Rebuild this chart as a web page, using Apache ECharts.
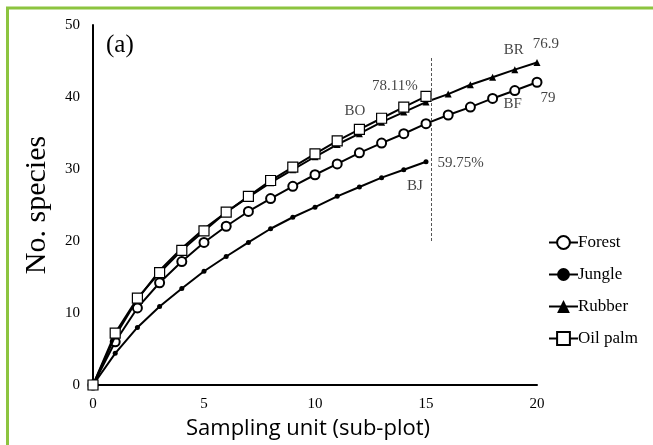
<!DOCTYPE html>
<html>
<head>
<meta charset="utf-8">
<script src="https://cdn.jsdelivr.net/npm/echarts@6/dist/echarts.min.js"></script>
<style>
html,body{margin:0;padding:0;background:#fff;}
#c{width:653px;height:445px;}
</style>
</head>
<body>
<div id="c"></div>
<script>
// Sampling units (x values)
var units = [0,1,2,3,4,5,6,7,8,9,10,11,12,13,14,15,16,17,18,19,20];
// Species accumulation per habitat
var forest  = [0,6.0,10.7,14.2,17.15,19.8,22.05,24.1,25.9,27.6,29.2,30.7,32.25,33.6,34.9,36.3,37.5,38.6,39.8,40.9,42.05];
var jungle  = [0,4.4,8.0,10.9,13.4,15.8,17.85,19.8,21.7,23.3,24.7,26.2,27.5,28.8,29.9,31.0];
var rubber  = [0,6.8,11.9,15.9,19.0,21.7,24.0,26.1,28.1,29.9,31.7,33.4,34.9,36.5,37.9,39.3,40.4,41.7,42.75,43.8,44.8];
var oilpalm = [0,7.2,12.06,15.6,18.7,21.4,24.0,26.2,28.4,30.25,32.1,33.9,35.5,37.05,38.6,40.1];
var seriesNames = ['Forest','Jungle','Rubber','Oil palm'];
var xTicks = [0,5,10,15,20];
var yTicks = [0,10,20,30,40,50];
// annotations: [x, y, text]
var annotations = [
  [11.8, 38.1, 'BO'],
  [13.6, 41.5, '78.11%'],
  [18.95, 46.5, 'BR'],
  [20.4, 47.4, '76.9'],
  [18.9, 38.96, 'BF'],
  [20.5, 39.8, '79'],
  [16.56, 30.76, '59.75%'],
  [14.5, 27.6, 'BJ']
];
var cutX = 15.25;
var cutRange = [20, 45.5];

function pairs(vals){ return vals.map(function(v,i){ return [units[i], v]; }); }

var serif = 'Liberation Serif';
var chart = echarts.init(document.getElementById('c'), null, {renderer:'canvas'});
var lineBase = {type:'line', smooth:false, lineStyle:{color:'#000', width:2}, emphasis:{disabled:true}, animation:false};

var option = {
  animation:false,
  backgroundColor:'#fff',
  grid:{left:93, top:25, width:444, height:360, containLabel:false},
  legend:{
    orient:'vertical', left:543, top:229, itemGap:15, itemWidth:29, itemHeight:16,
    data:seriesNames,
    textStyle:{fontFamily:serif, fontSize:17, color:'#000', padding:[0,0,0,-5]}
  },
  xAxis:{
    type:'value', min:0, max:20, interval:5,
    axisLine:{show:true, lineStyle:{color:'#000', width:2}},
    axisTick:{show:false}, splitLine:{show:false},
    axisLabel:{fontFamily:serif, fontSize:15, color:'#000', margin:12,
      formatter:function(v){ return xTicks.indexOf(v)>=0 ? String(v) : ''; }},
    name:'Sampling unit (sub-plot)', nameLocation:'middle', nameGap:33,
    nameTextStyle:{fontFamily:'Open Sans', fontSize:22, color:'#000', padding:[0,14,0,0]}
  },
  yAxis:{
    type:'value', min:0, max:50, interval:10,
    axisLine:{show:true, lineStyle:{color:'#000', width:2}},
    axisTick:{show:false}, splitLine:{show:false},
    axisLabel:{fontFamily:serif, fontSize:15, color:'#000', margin:13,
      formatter:function(v){ return yTicks.indexOf(v)>=0 ? String(v) : ''; }},
    name:'No. species', nameLocation:'middle', nameGap:41, nameRotate:90,
    nameTextStyle:{fontFamily:serif, fontSize:30, color:'#000'}
  },
  graphic:[
    {type:'polyline', shape:{points:[[7.5,445],[7.5,8],[653,8]]}, style:{stroke:'#8cc43f', lineWidth:3, fill:null}, z:100},
    {type:'text', left:106, top:33, style:{text:'(a)', font:'25px "Liberation Serif"', fill:'#000'}}
  ],
  series:[
    Object.assign({}, lineBase, {name:'Forest', data:pairs(forest), symbol:'circle', symbolSize:9,
      itemStyle:{color:'#fff', borderColor:'#000', borderWidth:2}, z:2}),
    Object.assign({}, lineBase, {name:'Jungle', data:pairs(jungle), symbol:'circle', symbolSize:5,
      itemStyle:{color:'#000', borderColor:'#000', borderWidth:0}, z:2}),
    Object.assign({}, lineBase, {name:'Rubber', data:pairs(rubber), symbol:'triangle', symbolSize:7,
      itemStyle:{color:'#000', borderColor:'#000', borderWidth:0}, z:3}),
    Object.assign({}, lineBase, {name:'Oil palm', data:pairs(oilpalm), symbol:'rect', symbolSize:10,
      itemStyle:{color:'#fff', borderColor:'#000', borderWidth:1.2}, z:4,
      markLine:{silent:true, symbol:['none','none'], label:{show:false},
        lineStyle:{color:'#555', width:1, type:[3,2]},
        data:[[{coord:[cutX, cutRange[0]]},{coord:[cutX, cutRange[1]]}]]}}),
    {type:'scatter', name:'annot', data:annotations.map(function(a){return [a[0],a[1],a[2]];}),
      symbolSize:0, silent:true, z:5, clip:false,
      label:{show:true, position:'inside', formatter:function(p){return p.data[2];},
        fontFamily:serif, fontSize:15, color:'#111'}}
  ]
};
chart.setOption(option);
</script>
</body>
</html>
